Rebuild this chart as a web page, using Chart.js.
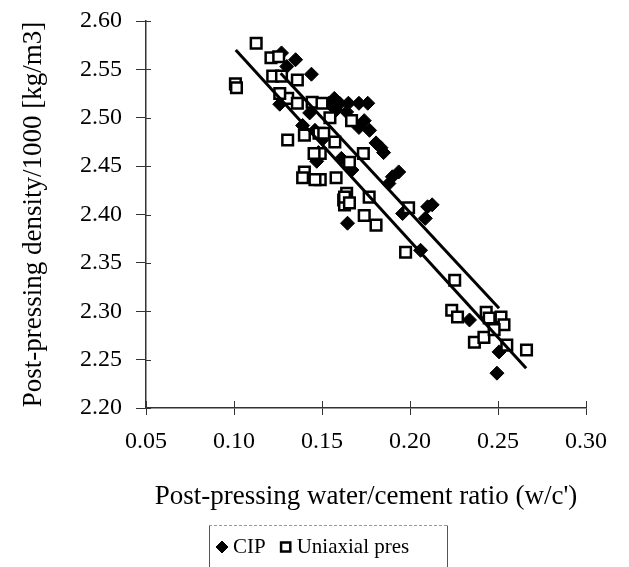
<!DOCTYPE html>
<html>
<head>
<meta charset="utf-8">
<script src="https://cdn.jsdelivr.net/npm/chart.js@4"></script>
<style>
    html, body { margin: 0; padding: 0; background: #fff; }
    #wrap { position: relative; width: 629px; height: 567px; }
</style>
</head>
<body>
<div id="wrap"><canvas id="density-chart"></canvas></div>
<script>
// ---- Data ---------------------------------------------------------------
const X_TICKS = [0.05, 0.10, 0.15, 0.20, 0.25, 0.30];
const Y_TICKS = [2.20, 2.25, 2.30, 2.35, 2.40, 2.45, 2.50, 2.55, 2.60];

const CIP_X = [0.127, 0.130, 0.135, 0.144, 0.126, 0.154, 0.160, 0.165, 0.171, 0.176,
    0.157, 0.158, 0.164, 0.139, 0.171, 0.177, 0.174, 0.1835, 0.185, 0.1936,
    0.190, 0.188, 0.210, 0.2087, 0.2126, 0.1958, 0.206, 0.1645, 0.2338, 0.2506,
    0.2494, 0.148, 0.161, 0.167, 0.146, 0.151, 0.1807, 0.143, 0.147];
const CIP_Y = [2.567, 2.553, 2.560, 2.545, 2.514, 2.515, 2.515, 2.515, 2.515, 2.515,
    2.520, 2.508, 2.506, 2.492, 2.490, 2.487, 2.497, 2.469, 2.464, 2.444,
    2.439, 2.432, 2.408, 2.396, 2.410, 2.401, 2.363, 2.391, 2.291, 2.258,
    2.236, 2.464, 2.458, 2.446, 2.487, 2.479, 2.474, 2.505, 2.455];

const UNI_X = [0.1008, 0.1014, 0.1126, 0.121, 0.1254, 0.122, 0.127, 0.136, 0.1305, 0.136,
    0.1444, 0.150, 0.1305, 0.140, 0.1483, 0.151, 0.1573, 0.1656, 0.1735, 0.158,
    0.164, 0.149, 0.149, 0.140, 0.146, 0.1455, 0.1623, 0.1628, 0.1628, 0.1656,
    0.174, 0.1807, 0.1768, 0.1975, 0.1992, 0.2254, 0.2237, 0.227, 0.2433, 0.245,
    0.2517, 0.2534, 0.2366, 0.242, 0.2478, 0.255, 0.2662, 0.1545, 0.1668, 0.126, 0.139];
const UNI_Y = [2.535, 2.531, 2.577, 2.562, 2.563, 2.543, 2.543, 2.539, 2.520, 2.515,
    2.516, 2.515, 2.477, 2.482, 2.484, 2.484, 2.475, 2.454, 2.463, 2.438,
    2.422, 2.436, 2.463, 2.444, 2.436, 2.463, 2.415, 2.410, 2.418, 2.412,
    2.399, 2.389, 2.418, 2.361, 2.407, 2.332, 2.301, 2.294, 2.299, 2.293,
    2.294, 2.286, 2.268, 2.273, 2.281, 2.265, 2.260, 2.500, 2.497, 2.525, 2.438];

// fitted trend lines (end points)
const CIP_FIT_X = [0.1265, 0.2506];
const CIP_FIT_Y = [2.546, 2.303];
const UNI_FIT_X = [0.101, 0.266];
const UNI_FIT_Y = [2.570, 2.241];

const LEGEND_ORDER = ['CIP', 'Uniaxial pres'];

const toPoints = (xs, ys) => xs.map((x, i) => ({ x, y: ys[i] }));

const SERIF = "'Liberation Serif', 'Times New Roman', serif";
const AXIS_COLOR = '#333';

// ---- Plugins ------------------------------------------------------------
// inner half of the tick marks (Excel style crossing ticks)
const innerTicks = {
    id: 'innerTicks',
    afterDraw(chart) {
        const { ctx, chartArea, scales } = chart;
        ctx.save();
        ctx.strokeStyle = AXIS_COLOR;
        ctx.lineWidth = 1;
        scales.x.ticks.forEach(t => {
            const px = Math.round(scales.x.getPixelForValue(t.value)) + 0.5;
            ctx.beginPath();
            ctx.moveTo(px, chartArea.bottom);
            ctx.lineTo(px, chartArea.bottom - 7);
            ctx.stroke();
        });
        scales.y.ticks.forEach(t => {
            const py = Math.round(scales.y.getPixelForValue(t.value)) + 0.5;
            ctx.beginPath();
            ctx.moveTo(chartArea.left, py);
            ctx.lineTo(chartArea.left + 5, py);
            ctx.stroke();
        });
        ctx.restore();
    }
};

// legend box below the axis title
const boxLegend = {
    id: 'boxLegend',
    afterDraw(chart) {
        const { ctx } = chart;
        const left = 209, right = 447, top = 525, bottom = 575;
        ctx.save();
        ctx.strokeStyle = '#555';
        ctx.lineWidth = 1;
        ctx.beginPath();
        ctx.moveTo(left + 0.5, bottom);
        ctx.lineTo(left + 0.5, top + 0.5);
        ctx.moveTo(right + 0.5, top + 0.5);
        ctx.lineTo(right + 0.5, bottom);
        ctx.stroke();
        ctx.setLineDash([3, 2]);
        ctx.strokeStyle = '#999';
        ctx.beginPath();
        ctx.moveTo(left, top + 0.5);
        ctx.lineTo(right, top + 0.5);
        ctx.stroke();
        ctx.setLineDash([]);

        const items = LEGEND_ORDER.map(l => chart.data.datasets.find(d => d.label === l));
        ctx.font = `21px ${SERIF}`;
        ctx.textBaseline = 'middle';
        let x = left + 13;
        const y = 547;
        items.forEach(ds => {
            Chart.helpers.drawPoint(ctx, {
                pointStyle: ds.pointStyle,
                radius: ds.legendRadius,
                borderWidth: ds.borderWidth,
                rotation: 0
            }, x, y);
            ctx.fillStyle = ds.backgroundColor;
            ctx.strokeStyle = ds.borderColor;
            ctx.lineWidth = ds.borderWidth;
            ctx.fill();
            ctx.stroke();
            ctx.fillStyle = '#000';
            ctx.fillText(ds.label, x + 11, y);
            x += 11 + ctx.measureText(ds.label).width + 20;
        });
        ctx.restore();
    }
};

// ---- Chart --------------------------------------------------------------
new Chart(document.getElementById('density-chart'), {
    type: 'scatter',
    data: {
        datasets: [
            {
                type: 'line',
                label: 'CIP fit',
                data: toPoints(CIP_FIT_X, CIP_FIT_Y),
                borderColor: '#000',
                borderWidth: 3,
                pointRadius: 0,
                fill: false,
                order: 0,
            },
            {
                type: 'line',
                label: 'Uniaxial fit',
                data: toPoints(UNI_FIT_X, UNI_FIT_Y),
                borderColor: '#000',
                borderWidth: 3,
                pointRadius: 0,
                fill: false,
                order: 0,
            },
            {
                label: 'Uniaxial pres',
                data: toPoints(UNI_X, UNI_Y),
                pointStyle: 'rect',
                pointRadius: 7.5,
                legendRadius: 6.5,
                backgroundColor: '#fff',
                borderColor: '#000',
                borderWidth: 2.5,
                order: 1,
            },
            {
                label: 'CIP',
                data: toPoints(CIP_X, CIP_Y),
                pointStyle: 'rectRot',
                pointRadius: 7,
                legendRadius: 6,
                backgroundColor: '#000',
                borderColor: '#000',
                borderWidth: 1,
                order: 2,
            },
        ]
    },
    options: {
        responsive: true,
        maintainAspectRatio: false,
        animation: false,
        layout: { padding: { left: 0, right: 43, top: 21, bottom: 0 } },
        plugins: {
            legend: { display: false },
            tooltip: { enabled: false },
        },
        scales: {
            x: {
                type: 'linear',
                min: 0.05,
                max: 0.30,
                afterBuildTicks: s => { s.ticks = X_TICKS.map(v => ({ value: v })); },
                afterFit: s => { s.height = 159; },
                border: { color: AXIS_COLOR, width: 1.5 },
                grid: { drawOnChartArea: false, tickLength: 7, color: AXIS_COLOR },
                ticks: {
                    color: '#000',
                    padding: 12,
                    maxRotation: 0,
                    font: { family: SERIF, size: 24 },
                    callback: v => v.toFixed(2),
                },
                title: {
                    display: true,
                    text: "Post-pressing water/cement ratio (w/c')",
                    color: '#000',
                    font: { family: SERIF, size: 27 },
                    padding: { top: 0, bottom: 54 },
                },
            },
            y: {
                type: 'linear',
                min: 2.20,
                max: 2.60,
                afterBuildTicks: s => { s.ticks = Y_TICKS.map(v => ({ value: v })); },
                afterFit: s => { s.width = 146; s.paddingTop = 0; s.paddingBottom = 0; },
                border: { color: AXIS_COLOR, width: 1.5 },
                grid: { drawOnChartArea: false, tickLength: 10, color: AXIS_COLOR },
                ticks: {
                    color: '#000',
                    padding: 14,
                    font: { family: SERIF, size: 24 },
                    callback: v => v.toFixed(2),
                },
                title: {
                    display: true,
                    text: 'Post-pressing density/1000 [kg/m3]',
                    color: '#000',
                    font: { family: SERIF, size: 27 },
                    padding: { top: 18, bottom: 0 },
                },
            },
        },
    },
    plugins: [innerTicks, boxLegend],
});
</script>
</body>
</html>
